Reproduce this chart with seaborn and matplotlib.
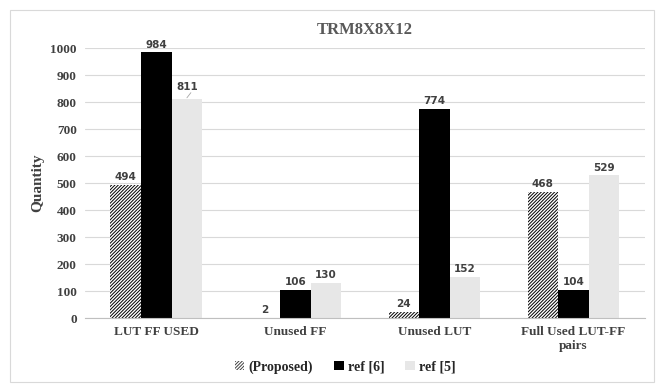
import matplotlib
matplotlib.use("Agg")
import matplotlib.pyplot as plt
import pandas as pd
import seaborn as sns
from matplotlib.patches import Patch

categorias = ["LUT FF USED", "Unused FF", "Unused LUT", "Full Used LUT-FF\npairs"]
series = ["(Proposed)", "ref [6]", "ref [5]"]
proposto = [494, 2, 24, 468]
ref6 = [984, 106, 774, 104]
ref5 = [811, 130, 152, 529]

df = pd.DataFrame({
    "categoria": categorias * 3,
    "serie": [series[0]] * 4 + [series[1]] * 4 + [series[2]] * 4,
    "valor": proposto + ref6 + ref5,
})

sns.set_style("white")
plt.rcParams["font.family"] = ["Liberation Serif", "DejaVu Serif"]
plt.rcParams["hatch.linewidth"] = 0.7

cores = {"(Proposed)": "white", "ref [6]": "black", "ref [5]": "#e7e7e7"}

fig = plt.figure(figsize=(6.64, 3.88), dpi=100)
ax = fig.add_axes([0.128, 0.18, 0.843, 0.696])

sns.barplot(data=df, x="categoria", y="valor", hue="serie", hue_order=series,
            palette=cores, width=0.66, saturation=1, linewidth=0, ax=ax, legend=False)

# hachura na serie proposta
for barra in ax.containers[0]:
    barra.set_hatch("//////////")
    barra.set_edgecolor("black")
    barra.set_linewidth(0)

for i, cont in enumerate(ax.containers):
    for barra, v in zip(cont, df[df["serie"] == series[i]]["valor"]):
        x = barra.get_x() + barra.get_width() / 2
        dy = 26 if v == 811 else 10
        ax.annotate(str(v), (x, v + dy), ha="center", va="bottom", fontsize=7.5,
                    fontweight="bold", color="#404040", family="DejaVu Sans")
        if v == 811:
            ax.plot([x, x + 4 / 140], [v + 5, v + 24], color="#a6a6a6", lw=0.6)

ax.set_ylim(0, 1000)
ax.set_yticks(range(0, 1001, 100))
ax.grid(axis="y", color="#d9d9d9", linewidth=0.8)
ax.set_axisbelow(True)
for lado in ["top", "right", "left"]:
    ax.spines[lado].set_visible(False)
ax.spines["bottom"].set_color("#bfbfbf")
ax.tick_params(axis="both", length=0, labelsize=9.5, colors="#404040", pad=6)
for rot in ax.get_xticklabels() + ax.get_yticklabels():
    rot.set_fontweight("bold")
ax.set_xlabel("")
ax.set_ylabel("Quantity", fontsize=11, fontweight="bold", color="#404040")
ax.set_title("TRM8X8X12", fontsize=12, fontweight="bold", color="#595959", pad=10)

alcas = [Patch(facecolor="white", edgecolor="#404040", hatch="//////////", linewidth=0),
         Patch(facecolor="black", linewidth=0),
         Patch(facecolor="#e7e7e7", linewidth=0)]
fig.legend(alcas, series, loc="lower center", bbox_to_anchor=(0.52, 0.005), ncol=3,
           frameon=False, handlelength=0.7, handleheight=0.7, handletextpad=0.3,
           columnspacing=1.5, prop={"weight": "bold", "size": 10})

# borda externa do grafico
fig.patches.append(plt.Rectangle((0.015, 0.015), 0.97, 0.96, transform=fig.transFigure,
                                 fill=False, edgecolor="#d9d9d9", linewidth=0.8))

fig.savefig("out.png", dpi=100)
